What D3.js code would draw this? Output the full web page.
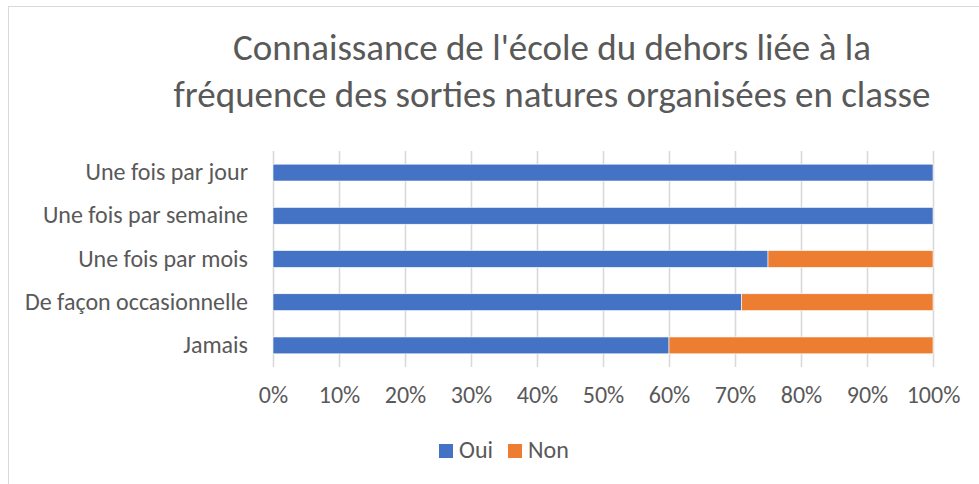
<!DOCTYPE html>
<html>
<head>
<meta charset="utf-8">
<script src="https://cdn.jsdelivr.net/npm/d3@7"></script>
<style>
  body { margin: 0; background: #fff; }
  svg text { font-family: Carlito, "Liberation Sans Narrow", "Open Sans", sans-serif; fill: #595959; }
</style>
</head>
<body>
<svg width="979" height="484"></svg>
<script>
var categories = ["Une fois par jour", "Une fois par semaine", "Une fois par mois", "De façon occasionnelle", "Jamais"];
var oui = [1, 1, 0.75, 0.71, 0.60];
var non = [0, 0, 0.25, 0.29, 0.40];
var seriesNames = ["Oui", "Non"];
var colors = ["#4472C4", "#ED7D31"];
var ticks = [0, 0.1, 0.2, 0.3, 0.4, 0.5, 0.6, 0.7, 0.8, 0.9, 1];
var titleLines = ["Connaissance de l'école du dehors liée à la", "fréquence des sorties natures organisées en classe"];

var svg = d3.select("svg"),
  width = +svg.attr("width"),
  height = +svg.attr("height");

var margin = { top: 151, left: 273, right: 46, bottom: 117 };

// chart border
svg.append("rect")
  .attr("x", 8.5).attr("y", 6.5)
  .attr("width", width + 10).attr("height", height + 10)
  .attr("fill", "none").attr("stroke", "#d9d9d9").attr("stroke-width", 1);

var x = d3.scaleLinear().domain([0, 1]).range([margin.left, width - margin.right]);
var y = d3.scaleBand().domain(categories)
  .range([margin.top, height - margin.bottom])
  .paddingInner(0.61).paddingOuter(0.305);

// gridlines
svg.append("g")
  .attr("transform", "translate(0," + margin.top + ")")
  .call(d3.axisBottom(x).tickValues(ticks).tickSize(height - margin.bottom - margin.top).tickFormat(""))
  .call(g => g.select(".domain").remove())
  .call(g => g.selectAll("line").attr("stroke", "#d9d9d9").attr("stroke-width", 1.6));

var rows = categories.map(function (c, i) { return { cat: c, Oui: oui[i], Non: non[i] }; });
var stacked = d3.stack().keys(seriesNames)(rows);

svg.append("g").selectAll("g")
  .data(stacked)
  .enter().append("g")
  .attr("fill", function (d, i) { return colors[i]; })
  .selectAll("rect")
  .data(function (d) { return d; })
  .enter().append("rect")
  .attr("x", function (d) { return x(d[0]); })
  .attr("y", function (d) { return y(d.data.cat); })
  .attr("width", function (d) { return x(d[1]) - x(d[0]); })
  .attr("height", y.bandwidth())
  .attr("stroke", "#fff").attr("stroke-width", 0.6);

// category labels
svg.append("g")
  .attr("transform", "translate(" + margin.left + ",0)")
  .call(d3.axisLeft(y).tickSize(0).tickPadding(25))
  .call(g => g.select(".domain").remove())
  .selectAll("text").attr("font-size", 24).attr("fill", "#595959").attr("font-family", null);

// percentage axis
svg.append("g")
  .attr("transform", "translate(0," + (height - margin.bottom) + ")")
  .call(d3.axisBottom(x).tickValues(ticks).tickSize(0).tickPadding(19).tickFormat(d3.format(".0%")))
  .call(g => g.select(".domain").remove())
  .selectAll("text").attr("font-size", 24).attr("fill", "#595959").attr("font-family", null);

// title
svg.append("g").selectAll("text")
  .data(titleLines)
  .enter().append("text")
  .attr("class", "title")
  .attr("x", 552)
  .attr("y", function (d, i) { return 60 + i * 47; })
  .attr("text-anchor", "middle")
  .attr("font-size", 37)
  .text(function (d) { return d; });

// legend
var legend = svg.append("g").selectAll("g")
  .data(seriesNames)
  .enter().append("g")
  .attr("transform", function (d, i) { return "translate(" + (439 + i * 69) + ",444)"; });
legend.append("rect").attr("width", 14).attr("height", 14)
  .attr("fill", function (d, i) { return colors[i]; });
legend.append("text").attr("x", 20).attr("y", 14).attr("font-size", 24)
  .text(function (d) { return d; });

// squeeze text to Calibri-like width
var probe = svg.append("text").attr("font-size", 24).text("De façon occasionnelle");
var factor = 221 / probe.node().getComputedTextLength();
probe.remove();
if (factor < 0.98) {
  svg.selectAll("text").each(function () {
    var t = d3.select(this);
    var w = this.getComputedTextLength();
    if (w > 0) t.attr("textLength", w * factor).attr("lengthAdjust", "spacingAndGlyphs");
  });
}
</script>
</body>
</html>
